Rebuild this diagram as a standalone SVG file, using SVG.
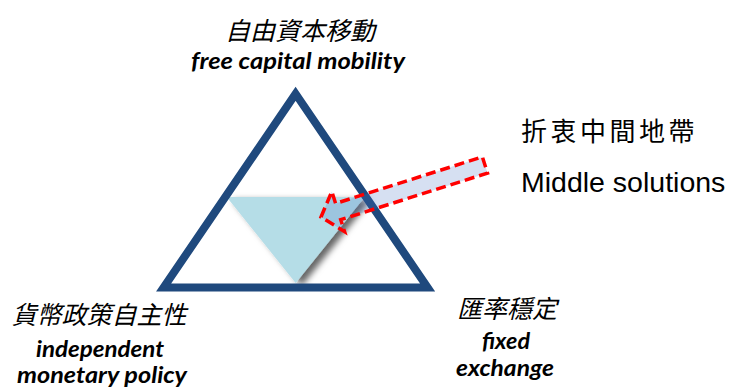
<svg xmlns="http://www.w3.org/2000/svg" width="730" height="389" viewBox="0 0 730 389">
<style>
.cjk{font-family:"Noto Sans CJK TC","Noto Sans CJK SC",sans-serif;font-style:italic;font-size:25px;fill:#000;text-anchor:middle}
.en{font-family:Lato,"Open Sans",sans-serif;font-style:italic;font-weight:bold;font-size:22px;fill:#000;text-anchor:middle}
.outer{fill:none;stroke:#1f497d;stroke-width:8;stroke-linejoin:miter}
.inner{fill:#b5dde7}
.arrow{fill:#4472c4;fill-opacity:0.22;stroke:#ff0000;stroke-width:3.5;stroke-dasharray:10 5}
</style>
<defs>
<filter id="shadow" x="-20%" y="-20%" width="150%" height="150%">
<feDropShadow dx="6" dy="3" stdDeviation="3" flood-color="#000" flood-opacity="0.6"/>
</filter>
</defs>
<rect width="730" height="389" fill="#fff"/>
<g id="middle-area">
<polygon class="inner" filter="url(#shadow)" points="226.7,197 364.7,197 295.7,283"/>
</g>
<g id="triangle">
<polygon class="outer" points="295.6,93.8 163.6,287.5 427.6,287.5"/>
</g>
<g id="node-top">
<text class="cjk" x="300" y="40">自由資本移動</text>
<text class="en" x="298" y="69" textLength="214" lengthAdjust="spacingAndGlyphs">free capital mobility</text>
</g>
<g id="node-left">
<text class="cjk" x="99" y="324" font-size="26">貨幣政策自主性</text>
<text class="en" x="100" y="357" textLength="128" lengthAdjust="spacingAndGlyphs">independent</text>
<text class="en" x="102" y="383" textLength="170" lengthAdjust="spacingAndGlyphs">monetary policy</text>
</g>
<g id="node-right">
<text class="cjk" x="507" y="318" font-size="26">匯率穩定</text>
<text class="en" x="506" y="349" textLength="48" lengthAdjust="spacingAndGlyphs">fixed</text>
<text class="en" x="505" y="376" textLength="98" lengthAdjust="spacingAndGlyphs">exchange</text>
</g>
<g id="node-middle">
<text x="521" y="141" font-family="Noto Sans CJK TC,Noto Sans CJK SC,sans-serif" font-size="26" letter-spacing="3.5" fill="#000">折衷中間地帶</text>
<text x="521" y="192" font-family="Liberation Sans,Arial,sans-serif" font-size="28.5" fill="#000">Middle solutions</text>
</g>
<g id="connectors">
<polygon class="arrow" transform="translate(321,217) rotate(-17.6)" points="0,0 18,-21 18,-8.5 172,-8.5 172,8.5 18,8.5 18,21"/>
</g>
</svg>
